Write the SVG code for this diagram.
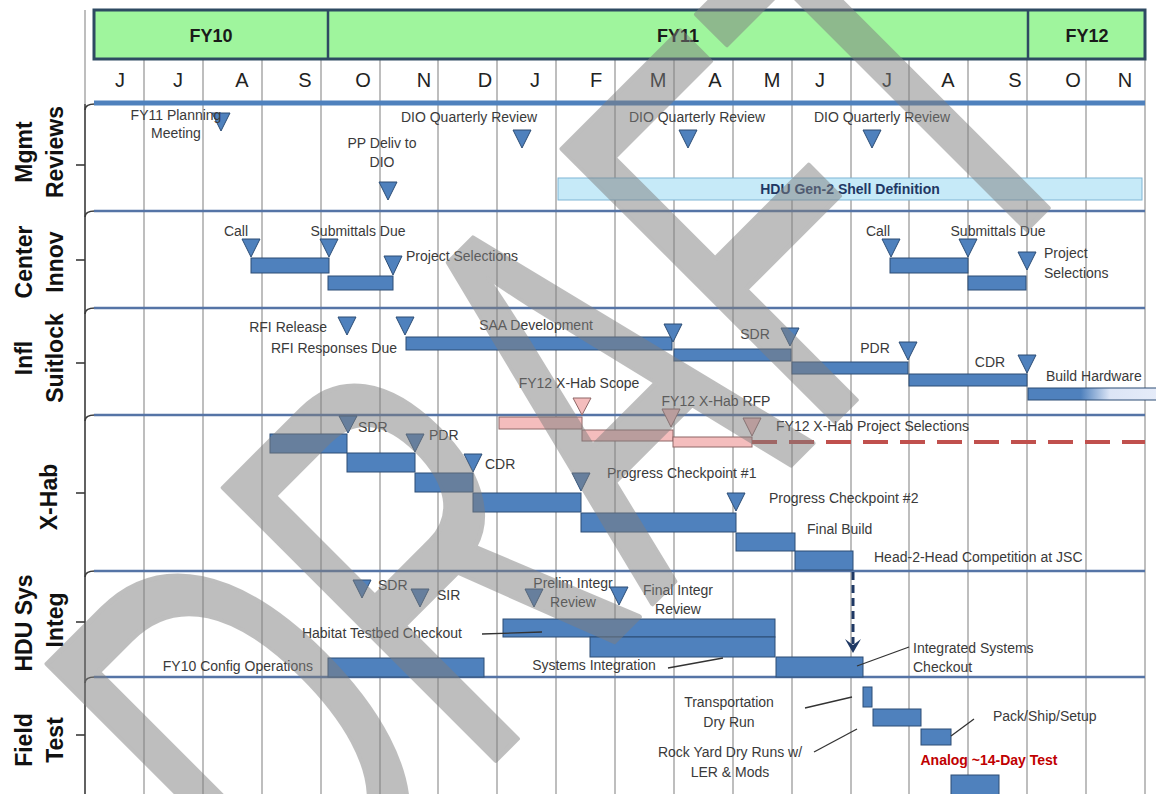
<svg xmlns="http://www.w3.org/2000/svg" width="1156" height="794" viewBox="0 0 1156 794">
<defs>
<style>
.t{font-family:"Liberation Sans",Arial,sans-serif;font-size:14px;fill:#3a3a3a}
.m{text-anchor:middle}
.e{text-anchor:end}
.mon{font-family:"Liberation Sans",Arial,sans-serif;font-size:20px;fill:#222;text-anchor:middle}
.fy{font-family:"Liberation Sans",Arial,sans-serif;font-size:18px;font-weight:bold;fill:#1a1a1a;text-anchor:middle}
.lab{font-family:"Liberation Sans",Arial,sans-serif;font-size:23px;font-weight:bold;fill:#111;text-anchor:middle}
.bar{fill:#4F81BD;stroke:#2C4D75;stroke-width:1}
.tri{fill:#4F81BD;stroke:#2C4D75;stroke-width:1}
.pbar{fill:#F4BDBD;stroke:#8E6666;stroke-width:1}
.ptri{fill:#F4BDBD;stroke:#8E6666;stroke-width:1}
.grid{stroke:#BEBEBE;stroke-width:2}
.sep{stroke:#5574A6;stroke-width:2.5}
.lead{stroke:#333;stroke-width:1.3;fill:none}
</style>
<linearGradient id="fade" x1="0" y1="0" x2="1" y2="0">
<stop offset="0" stop-color="#4F81BD"/>
<stop offset="0.4" stop-color="#4F81BD"/>
<stop offset="0.62" stop-color="#DCE5F6"/>
<stop offset="1" stop-color="#E6ECF9"/>
</linearGradient>
</defs>
<rect width="1156" height="794" fill="#fff"/>

<g id="grid">
<line class="grid" x1="85" y1="10" x2="85" y2="104"/>
<line class="grid" x1="144" y1="59" x2="144" y2="794"/>
<line class="grid" x1="203" y1="59" x2="203" y2="794"/>
<line class="grid" x1="262" y1="59" x2="262" y2="794"/>
<line class="grid" x1="321" y1="59" x2="321" y2="794"/>
<line class="grid" x1="380" y1="59" x2="380" y2="794"/>
<line class="grid" x1="438" y1="59" x2="438" y2="794"/>
<line class="grid" x1="497" y1="59" x2="497" y2="794"/>
<line class="grid" x1="556" y1="59" x2="556" y2="794"/>
<line class="grid" x1="615" y1="59" x2="615" y2="794"/>
<line class="grid" x1="674" y1="59" x2="674" y2="794"/>
<line class="grid" x1="733" y1="59" x2="733" y2="794"/>
<line class="grid" x1="792" y1="59" x2="792" y2="794"/>
<line class="grid" x1="851" y1="59" x2="851" y2="794"/>
<line class="grid" x1="909" y1="59" x2="909" y2="794"/>
<line class="grid" x1="968" y1="59" x2="968" y2="794"/>
<line class="grid" x1="1027" y1="59" x2="1027" y2="794"/>
<line class="grid" x1="1086" y1="59" x2="1086" y2="794"/>
<line class="grid" x1="1145" y1="59" x2="1145" y2="794"/>
</g>

<g id="header">
<rect x="94" y="10" width="1051" height="49" fill="#9FF59D" stroke="#2E4A62" stroke-width="3"/>
<line x1="328" y1="10" x2="328" y2="59" stroke="#2E4A62" stroke-width="2.5"/>
<line x1="1028" y1="10" x2="1028" y2="59" stroke="#2E4A62" stroke-width="2.5"/>
<text class="fy" x="211" y="42">FY10</text>
<text class="fy" x="678" y="42">FY11</text>
<text class="fy" x="1087" y="42">FY12</text>
</g>

<g id="months">
<text class="mon" x="120" y="87">J</text>
<text class="mon" x="178" y="87">J</text>
<text class="mon" x="242" y="87">A</text>
<text class="mon" x="305" y="87">S</text>
<text class="mon" x="363" y="87">O</text>
<text class="mon" x="424" y="87">N</text>
<text class="mon" x="485" y="87">D</text>
<text class="mon" x="535" y="87">J</text>
<text class="mon" x="596" y="87">F</text>
<text class="mon" x="658" y="87">M</text>
<text class="mon" x="715" y="87">A</text>
<text class="mon" x="772" y="87">M</text>
<text class="mon" x="820" y="87">J</text>
<text class="mon" x="887" y="87">J</text>
<text class="mon" x="948" y="87">A</text>
<text class="mon" x="1015" y="87">S</text>
<text class="mon" x="1073" y="87">O</text>
<text class="mon" x="1125" y="87">N</text>
</g>

<g id="axis" fill="none" stroke="#3a3a3a" stroke-width="1.6">
<line x1="85" y1="104" x2="85" y2="794"/>
<path d="M85,110 Q85,104 95,104"/>
<path d="M85,217 Q85,211 95,211"/>
<path d="M85,314 Q85,308 95,308"/>
<path d="M85,421 Q85,415 95,415"/>
<path d="M85,577 Q85,571 95,571"/>
<path d="M85,683 Q85,677 95,677"/>
<line x1="76" y1="165" x2="85" y2="165"/>
<line x1="76" y1="260" x2="85" y2="260"/>
<line x1="76" y1="363" x2="85" y2="363"/>
<line x1="76" y1="493" x2="85" y2="493"/>
<line x1="76" y1="622" x2="85" y2="622"/>
<line x1="76" y1="735" x2="85" y2="735"/>
</g>

<g id="separators">
<line x1="94" y1="103" x2="1145" y2="103" stroke="#4F81BD" stroke-width="5"/>
<line class="sep" x1="94" y1="211" x2="1145" y2="211"/>
<line class="sep" x1="94" y1="308" x2="1145" y2="308"/>
<line class="sep" x1="94" y1="415" x2="1145" y2="415"/>
<line class="sep" x1="94" y1="571" x2="1145" y2="571"/>
<line class="sep" x1="94" y1="677" x2="1145" y2="677"/>
</g>

<g id="row-labels">
<text class="lab" transform="translate(32,152) rotate(-90)">Mgmt</text>
<text class="lab" transform="translate(63,152) rotate(-90)">Reviews</text>
<text class="lab" transform="translate(32,262) rotate(-90)">Center</text>
<text class="lab" transform="translate(63,262) rotate(-90)">Innov</text>
<text class="lab" transform="translate(32,358) rotate(-90)">Infl</text>
<text class="lab" transform="translate(63,358) rotate(-90)">Suitlock</text>
<text class="lab" transform="translate(57,497) rotate(-90)">X-Hab</text>
<text class="lab" transform="translate(32,623) rotate(-90)">HDU Sys</text>
<text class="lab" transform="translate(63,620) rotate(-90)">Integ</text>
<text class="lab" transform="translate(32,740) rotate(-90)">Field</text>
<text class="lab" transform="translate(63,740) rotate(-90)">Test</text>
</g>

<g id="mgmt-reviews">
<g id="fy11-planning"><polygon class="tri" points="212,113 230,113 221,131"/><text class="t m" x="176" y="120">FY11 Planning</text><text class="t m" x="176" y="138">Meeting</text></g>
<g id="pp-deliv"><polygon class="tri" points="379,182 397,182 388,200"/><text class="t m" x="382" y="148">PP Deliv to</text><text class="t m" x="382" y="167">DIO</text></g>
<g id="dio-q1"><polygon class="tri" points="513,130 531,130 522,148"/><text class="t m" x="469" y="122">DIO Quarterly Review</text></g>
<g id="dio-q2"><polygon class="tri" points="679,130 697,130 688,148"/><text class="t m" x="697" y="122">DIO Quarterly Review</text></g>
<g id="dio-q3"><polygon class="tri" points="863,130 881,130 872,148"/><text class="t m" x="882" y="122">DIO Quarterly Review</text></g>
<g id="hdu-gen2"><rect x="558" y="178" width="584" height="22" fill="#C6EAF8" stroke="#7FB5D5" stroke-width="1"/><text x="850" y="194" text-anchor="middle" font-family="Liberation Sans, Arial, sans-serif" font-size="14" font-weight="bold" fill="#1F3864">HDU Gen-2 Shell Definition</text></g>
</g>

<g id="center-innov">
<g id="ci-call1"><polygon class="tri" points="242,239 260,239 251,257"/><text class="t m" x="236" y="236">Call</text></g>
<g id="ci-bar1"><rect class="bar" x="251" y="258" width="78" height="15"/></g>
<g id="ci-sub1"><polygon class="tri" points="320,239 338,239 329,257"/><text class="t m" x="358" y="236">Submittals Due</text></g>
<g id="ci-bar2"><rect class="bar" x="328" y="276" width="65" height="14"/></g>
<g id="ci-sel1"><polygon class="tri" points="384,256 402,256 393,275"/><text class="t" x="406" y="261">Project Selections</text></g>
<g id="ci-call2"><polygon class="tri" points="882,239 900,239 891,257"/><text class="t m" x="878" y="236">Call</text></g>
<g id="ci-bar3"><rect class="bar" x="890" y="258" width="78" height="15"/></g>
<g id="ci-sub2"><polygon class="tri" points="959,239 977,239 968,257"/><text class="t m" x="998" y="236">Submittals Due</text></g>
<g id="ci-bar4"><rect class="bar" x="968" y="276" width="58" height="14"/></g>
<g id="ci-sel2"><polygon class="tri" points="1018,252 1036,252 1027,270"/><text class="t" x="1044" y="258">Project</text><text class="t" x="1044" y="278">Selections</text></g>
</g>

<g id="infl-suitlock">
<g id="rfi-release"><polygon class="tri" points="338,317 356,317 347,335"/><text class="t e" x="327" y="332">RFI Release</text></g>
<g id="rfi-resp"><polygon class="tri" points="396,317 414,317 405,335"/><text class="t m" x="334" y="353">RFI Responses Due</text></g>
<g id="saa-dev"><rect class="bar" x="406" y="337" width="266" height="13"/><text class="t m" x="536" y="330">SAA Development</text></g>
<g id="is-sdr"><polygon class="tri" points="664,324 682,324 673,342"/><rect class="bar" x="674" y="349" width="117" height="12"/><text class="t m" x="755" y="339">SDR</text></g>
<g id="is-pdr"><polygon class="tri" points="781,328 799,328 790,346"/><rect class="bar" x="792" y="362" width="116" height="12"/><text class="t m" x="875" y="353">PDR</text></g>
<g id="is-cdr"><polygon class="tri" points="899,342 917,342 908,360"/><rect class="bar" x="909" y="374" width="118" height="12"/><text class="t m" x="990" y="367">CDR</text></g>
<g id="is-build"><polygon class="tri" points="1018,355 1036,355 1027,373"/><rect x="1028" y="388" width="132" height="12" fill="url(#fade)" stroke="#2C4D75" stroke-width="1"/><text class="t" x="1046" y="381">Build Hardware</text></g>
</g>

<g id="xhab">
<g id="xh-scope"><rect class="pbar" x="499" y="417" width="83" height="12"/><polygon class="ptri" points="573,398 591,398 582,415"/><text class="t m" x="579" y="388">FY12 X-Hab Scope</text></g>
<g id="xh-rfp"><rect class="pbar" x="582" y="430" width="91" height="11"/><polygon class="ptri" points="662,409 680,409 671,427"/><text class="t m" x="716" y="406">FY12 X-Hab RFP</text></g>
<g id="xh-sel"><rect class="pbar" x="673" y="437" width="79" height="10"/><polygon class="ptri" points="743,418 761,418 752,436"/><text class="t" x="776" y="431">FY12 X-Hab Project Selections</text></g>
<g id="xh-b1"><rect class="bar" x="270" y="434" width="77" height="19"/></g>
<g id="xh-sdr"><polygon class="tri" points="339,416 357,416 348,433"/><text class="t" x="358" y="432">SDR</text></g>
<g id="xh-b2"><rect class="bar" x="347" y="453" width="68" height="19"/></g>
<g id="xh-pdr"><polygon class="tri" points="406,434 424,434 415,452"/><text class="t" x="429" y="440">PDR</text></g>
<g id="xh-b3"><rect class="bar" x="415" y="473" width="58" height="19"/></g>
<g id="xh-cdr"><polygon class="tri" points="464,454 482,454 473,472"/><text class="t" x="485" y="469">CDR</text></g>
<g id="xh-b4"><rect class="bar" x="473" y="493" width="108" height="19"/></g>
<g id="xh-pc1"><polygon class="tri" points="572,473 590,473 581,491"/><text class="t" x="607" y="478">Progress Checkpoint #1</text></g>
<g id="xh-b5"><rect class="bar" x="581" y="513" width="155" height="19"/></g>
<g id="xh-pc2"><polygon class="tri" points="727,493 745,493 736,511"/><text class="t" x="769" y="503">Progress Checkpoint #2</text></g>
<g id="xh-final"><rect class="bar" x="736" y="533" width="59" height="18"/><text class="t" x="807" y="534">Final Build</text></g>
<g id="xh-h2h"><rect class="bar" x="795" y="551" width="58" height="19"/><text class="t" x="874" y="562">Head-2-Head Competition at JSC</text></g>
</g>

<g id="hdu-integ">
<g id="hi-sdr"><polygon class="tri" points="353,580 371,580 362,598"/><text class="t" x="378" y="590">SDR</text></g>
<g id="hi-sir"><polygon class="tri" points="411,589 429,589 420,607"/><text class="t" x="437" y="600">SIR</text></g>
<g id="hi-prelim"><polygon class="tri" points="525,589 543,589 534,607"/><text class="t m" x="573" y="588">Prelim Integr</text><text class="t m" x="573" y="607">Review</text></g>
<g id="hi-final"><polygon class="tri" points="610,587 628,587 619,605"/><text class="t m" x="678" y="595">Final Integr</text><text class="t m" x="678" y="614">Review</text></g>
<g id="hi-habitat"><rect class="bar" x="503" y="619" width="272" height="18"/><text class="t e" x="462" y="638">Habitat Testbed Checkout</text></g>
<g id="hi-sysint"><rect class="bar" x="590" y="637" width="185" height="20"/><text class="t m" x="594" y="670">Systems Integration</text></g>
<g id="hi-fy10"><rect class="bar" x="328" y="658" width="156" height="19"/><text class="t e" x="313" y="671">FY10 Config Operations</text></g>
<g id="hi-isc"><rect class="bar" x="776" y="657" width="87" height="20"/><text class="t" x="913" y="653">Integrated Systems</text><text class="t" x="913" y="672">Checkout</text></g>
</g>

<g id="field-test">
<g id="ft-trans"><rect class="bar" x="863" y="687" width="9" height="20"/><text class="t m" x="729" y="707">Transportation</text><text class="t m" x="729" y="727">Dry Run</text></g>
<g id="ft-rock"><rect class="bar" x="873" y="709" width="48" height="17"/><text class="t m" x="730" y="757">Rock Yard Dry Runs w/</text><text class="t m" x="730" y="777">LER &amp; Mods</text></g>
<g id="ft-pack"><rect class="bar" x="921" y="729" width="30" height="16"/><text class="t" x="993" y="721">Pack/Ship/Setup</text></g>
<g id="ft-analog"><rect class="bar" x="951" y="775" width="48" height="25"/><text x="989" y="765" text-anchor="middle" font-family="Liberation Sans, Arial, sans-serif" font-size="14" font-weight="bold" fill="#C00000">Analog ~14-Day Test</text></g>
</g>

<g id="connectors">
<line x1="752" y1="442" x2="1145" y2="442" stroke="#C0504D" stroke-width="4" stroke-dasharray="25 12"/>
<line x1="853" y1="572" x2="853" y2="644" stroke="#1F3864" stroke-width="3" stroke-dasharray="8 5"/>
<path d="M845,639 L853,653 L861,639 L853,645 Z" fill="#1F3864"/>
<line class="lead" x1="482" y1="634" x2="542" y2="632"/>
<line class="lead" x1="668" y1="668" x2="723" y2="658"/>
<line class="lead" x1="857" y1="666" x2="909" y2="647"/>
<line class="lead" x1="805" y1="708" x2="852" y2="697"/>
<line class="lead" x1="814" y1="752" x2="857" y2="729"/>
<line class="lead" x1="951" y1="736" x2="974" y2="719"/>
</g>

<g id="watermark" opacity="0.5">
<text transform="translate(299,957) rotate(-45) scale(0.616,1)" font-family="Liberation Sans, Arial, sans-serif" font-size="560" fill="#7f7f7f" stroke="#7f7f7f" stroke-width="5" stroke-linejoin="round">DRAFT</text>
</g>
</svg>
